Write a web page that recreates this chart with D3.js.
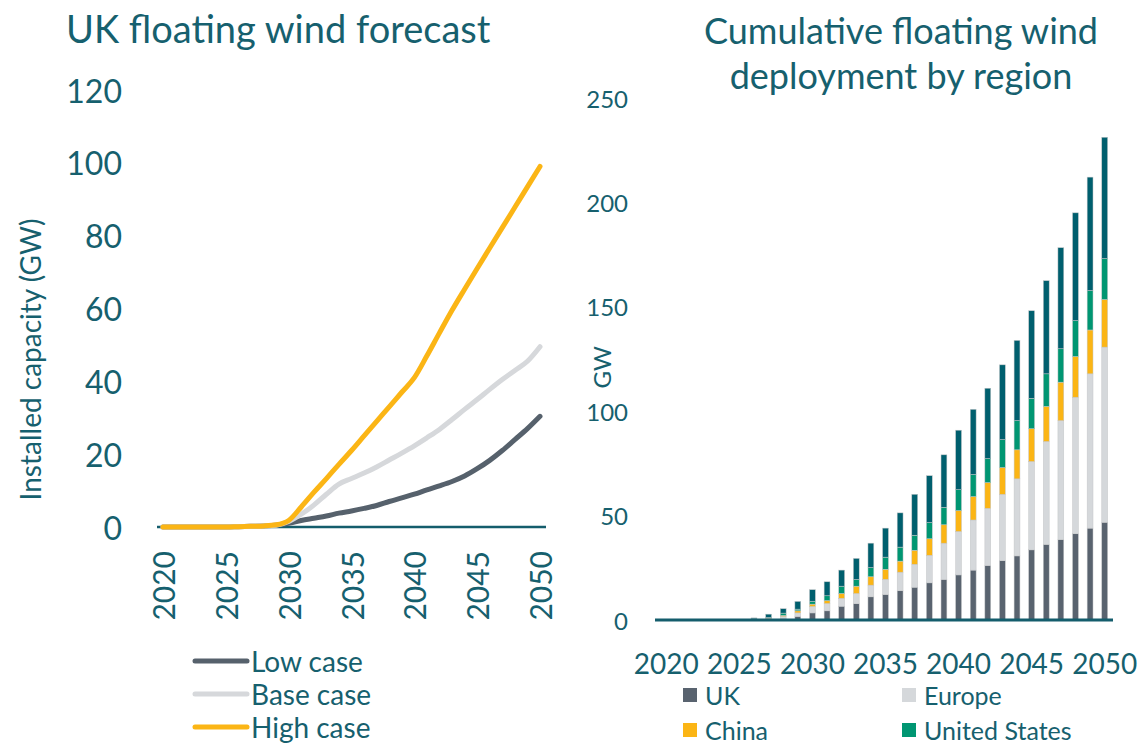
<!DOCTYPE html>
<html>
<head>
<meta charset="utf-8">
<script src="https://cdn.jsdelivr.net/npm/d3@7"></script>
<style>
  html, body { margin: 0; padding: 0; background: #ffffff; }
  svg text { font-family: Lato, "Open Sans", sans-serif; fill: #16606e; }
</style>
</head>
<body>
<svg id="chart" width="1145" height="745"></svg>
<script>
// ---- UK floating wind forecast (GW), 2020-2050 ----
const years = d3.range(2020, 2051);
const lowCase  = [0,0,0,0,0,0,0.1,0.2,0.3,0.5,1.0,1.8,2.4,3.0,3.8,4.4,5.1,5.9,7.0,8.0,9.0,10.2,11.3,12.5,14.0,16.0,18.3,21.0,24.0,27.0,30.4];
const baseCase = [0,0,0,0,0,0,0.1,0.2,0.3,0.5,1.5,3.5,6.0,9.0,11.8,13.3,14.8,16.5,18.4,20.3,22.3,24.5,26.8,29.5,32.3,35.0,37.8,40.5,43.0,45.5,49.5];
const highCase = [0,0,0,0,0,0,0.1,0.2,0.3,0.6,1.8,5.5,9.5,13.3,17.2,21.0,25.0,29.0,33.0,37.0,41.0,47.0,53.3,59.5,65.3,71.0,76.6,82.2,87.8,93.4,99.0];
const caseNames = ["Low case", "Base case", "High case"];
const lineTicks = [0, 20, 40, 60, 80, 100, 120];
const lineYearTicks = [2020, 2025, 2030, 2035, 2040, 2045, 2050];

// ---- Cumulative floating wind deployment by region (GW), 2020-2050 ----
const ukGW     = [0,0,0,0,0,0,0,0.2,0.6,1.7,3.4,4.4,6.6,7.8,11.1,12.2,14.0,15.7,17.8,19.4,21.6,23.9,26.1,28.4,30.7,33.6,36.2,38.5,41.3,44.0,46.8];
const europeGW = [0,0,0,0,0,0,0.2,0.3,1.1,1.7,3.1,3.5,3.8,4.9,5.6,7.3,8.9,11.0,13.2,17.4,20.8,24.0,27.4,31.8,36.9,42.3,49.3,57.0,65.4,73.9,83.9];
const chinaGW  = [0,0,0,0,0,0,0.1,0.4,0.5,1.0,1.1,1.4,2.3,3.5,4.0,4.8,5.3,6.7,7.9,8.8,10.0,11.2,12.3,12.8,13.9,15.7,16.8,18.4,19.5,21.0,22.8];
const usGW     = [0,0,0,0,0,0,0.4,0.3,1.1,0.8,1.4,2.3,3.5,3.2,4.4,5.8,6.7,7.2,7.8,8.4,10.0,10.6,11.5,13.4,14.0,14.6,15.6,16.0,17.2,18.9,19.6];
const restGW   = [0,0,0,0,0,0,0.3,1.6,2.1,3.7,5.5,6.7,7.7,10.1,11.7,13.9,16.4,19.6,22.4,25.1,28.5,31.2,33.7,35.8,38.4,41.9,44.6,48.4,51.6,54.3,58.1];
const regionNames = ["UK", "Europe", "China", "United States", "Rest of world"];
const barTicks = [0, 50, 100, 150, 200, 250];
const barYearTicks = [2020, 2025, 2030, 2035, 2040, 2045, 2050];

const axisColor = "#145d6c";
const caseColors = { "Low case": "#56616c", "Base case": "#d6d8db", "High case": "#fbb515" };
const regionColors = { "UK": "#59636f", "Europe": "#d5d8db", "China": "#fbb515", "United States": "#009672", "Rest of world": "#005f6e" };

const svg = d3.select("#chart");

// =================== Left panel: line chart ===================
const left = svg.append("g");
const xL = d3.scalePoint().domain(years).range([163, 540]);
const yL = d3.scaleLinear().domain([0, 120]).range([527, 90]);

left.append("text")
  .attr("x", 66).attr("y", 43)
  .style("font-size", "38px")
  .text("UK floating wind forecast");

// y tick labels
left.append("g").selectAll("text").data(lineTicks).join("text")
  .attr("x", 122).attr("y", d => yL(d))
  .attr("text-anchor", "end").attr("dominant-baseline", "central")
  .style("font-size", "32px")
  .text(d => d);

// y axis title
left.append("text")
  .attr("transform", `translate(30,${yL(46)}) rotate(-90)`)
  .attr("text-anchor", "middle").attr("dominant-baseline", "central")
  .style("font-size", "28px")
  .text("Installed capacity (GW)");

// x axis line
left.append("line")
  .attr("x1", 157).attr("x2", 546).attr("y1", yL(0)).attr("y2", yL(0))
  .attr("stroke", axisColor).attr("stroke-width", 2.5);

// rotated year labels
left.append("g").selectAll("text").data(lineYearTicks).join("text")
  .attr("transform", d => `translate(${xL(d)},551) rotate(-90)`)
  .attr("text-anchor", "end").attr("dominant-baseline", "central")
  .style("font-size", "30px")
  .text(d => d);

const caseSeries = [
  { name: "Low case", values: lowCase },
  { name: "Base case", values: baseCase },
  { name: "High case", values: highCase }
];
const line = d3.line()
  .x((d, i) => xL(years[i]))
  .y(d => yL(d))
  .curve(d3.curveMonotoneX);

left.append("g").selectAll("path").data(caseSeries).join("path")
  .attr("d", d => line(d.values))
  .attr("fill", "none")
  .attr("stroke", d => caseColors[d.name])
  .attr("stroke-width", 5)
  .attr("stroke-linecap", "round")
  .attr("stroke-linejoin", "round");

// legend
const legL = left.append("g").selectAll("g").data(caseNames).join("g")
  .attr("transform", (d, i) => `translate(0,${661 + i * 33})`);
legL.append("line")
  .attr("x1", 195).attr("x2", 247).attr("y1", 0).attr("y2", 0)
  .attr("stroke", d => caseColors[d]).attr("stroke-width", 5).attr("stroke-linecap", "round");
legL.append("text")
  .attr("x", 251).attr("y", 0).attr("dominant-baseline", "central")
  .style("font-size", "28px")
  .text(d => d);

// =================== Right panel: stacked bars ===================
const right = svg.append("g");
const xR = d3.scaleBand().domain(years).range([659, 1112]).paddingInner(0.6).paddingOuter(0.3);
const yR = d3.scaleLinear().domain([0, 250]).range([620, 98]);

right.append("text")
  .attr("x", 901).attr("y", 44).attr("text-anchor", "middle")
  .style("font-size", "36px")
  .text("Cumulative floating wind");
right.append("text")
  .attr("x", 901).attr("y", 89).attr("text-anchor", "middle")
  .style("font-size", "36px")
  .text("deployment by region");

right.append("g").selectAll("text").data(barTicks).join("text")
  .attr("x", 628).attr("y", d => yR(d))
  .attr("text-anchor", "end").attr("dominant-baseline", "central")
  .style("font-size", "24px")
  .text(d => d);

right.append("text")
  .attr("transform", `translate(601,${yR(121)}) rotate(-90)`)
  .attr("text-anchor", "middle").attr("dominant-baseline", "central")
  .style("font-size", "24px")
  .text("GW");

const regionTable = years.map((yr, i) => ({
  year: yr,
  "UK": ukGW[i], "Europe": europeGW[i], "China": chinaGW[i],
  "United States": usGW[i], "Rest of world": restGW[i]
}));
const stacked = d3.stack().keys(regionNames)(regionTable);

right.append("g").selectAll("g").data(stacked).join("g")
  .attr("fill", d => regionColors[d.key])
  .selectAll("rect").data(d => d.filter(p => p[1] - p[0] > 0)).join("rect")
  .attr("x", d => xR(d.data.year))
  .attr("width", xR.bandwidth())
  .attr("y", d => yR(d[1]))
  .attr("height", d => yR(d[0]) - yR(d[1]))
  .attr("stroke", "#c4c6c8").attr("stroke-width", 0.5);

right.append("line")
  .attr("x1", 655).attr("x2", 1113).attr("y1", yR(0)).attr("y2", yR(0))
  .attr("stroke", axisColor).attr("stroke-width", 3);

right.append("g").selectAll("text").data(barYearTicks).join("text")
  .attr("x", d => xR(d) + xR.bandwidth() / 2).attr("y", 663)
  .attr("text-anchor", "middle").attr("dominant-baseline", "central")
  .style("font-size", "28px")
  .text(d => d);

// legend (four named regions)
const legendRegions = ["UK", "Europe", "China", "United States"];
const legR = right.append("g").selectAll("g").data(legendRegions).join("g")
  .attr("transform", (d, i) => `translate(${i % 2 === 0 ? 683 : 902},${i < 2 ? 695 : 730})`);
legR.append("rect")
  .attr("x", 0).attr("y", -7).attr("width", 14).attr("height", 14)
  .attr("fill", d => regionColors[d]);
legR.append("text")
  .attr("x", 22).attr("y", 0).attr("dominant-baseline", "central")
  .style("font-size", "25px")
  .text(d => d);
</script>
</body>
</html>
